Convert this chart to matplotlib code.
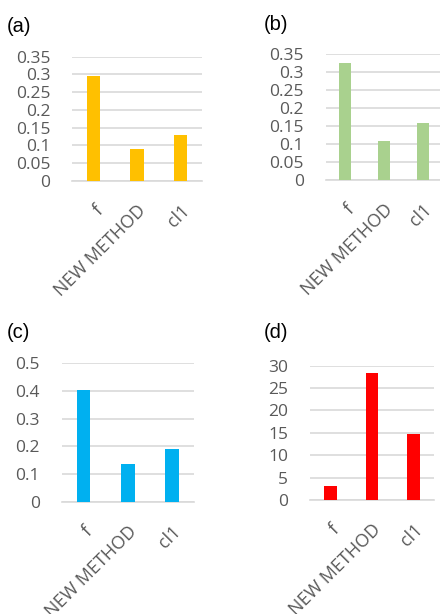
import matplotlib
matplotlib.use('Agg')
from matplotlib import pyplot as plt

plt.rcParams['font.family'] = ['Open Sans', 'DejaVu Sans']

categories = ['f', 'NEW METHOD', 'cl1']
values_a = [0.295, 0.090, 0.130]
values_b = [0.325, 0.108, 0.158]
values_c = [0.405, 0.137, 0.190]
values_d = [3.2, 28.3, 14.7]

ticks_a = [0, 0.05, 0.1, 0.15, 0.2, 0.25, 0.3, 0.35]
ticks_c = [0, 0.1, 0.2, 0.3, 0.4, 0.5]
ticks_d = [0, 5, 10, 15, 20, 25, 30]

W, H = 440, 614
fig = plt.figure(figsize=(W / 100, H / 100), dpi=100)

grid_col = '#D9D9D9'
text_col = '#595959'

def panel(box, vals, ticks, color, letter, letter_xy, bar_w):
    x0, x1, ytop, ybot = box
    ax = fig.add_axes([x0 / W, 1 - ybot / H, (x1 - x0) / W, (ybot - ytop) / H])
    ax.bar(range(len(categories)), vals, width=bar_w, color=color, zorder=3)
    ax.set_xlim(-0.5, len(categories) - 0.5)
    ax.set_ylim(ticks[0], ticks[-1])
    ax.set_yticks(ticks)
    ax.set_yticklabels(['%g' % t for t in ticks])
    ax.yaxis.grid(True, color=grid_col, linewidth=1.2, zorder=0)
    for s in ['top', 'right', 'left']:
        ax.spines[s].set_visible(False)
    ax.spines['bottom'].set_color(grid_col)
    ax.spines['bottom'].set_linewidth(1.2)
    ax.tick_params(length=0, labelsize=12.5, labelcolor=text_col)
    ax.tick_params(axis='y', pad=15.5)
    ax.set_xticks(range(len(categories)))
    ax.set_xticklabels(categories, rotation=45, ha='right', va='top',
                       rotation_mode='anchor', fontsize=13)
    ax.tick_params(axis='x', pad=15)
    fig.text(letter_xy[0] / W, 1 - letter_xy[1] / H, letter, fontsize=14.5,
             family='Liberation Sans', color='black', ha='left', va='center')
    return ax

panel((72, 202, 56.7, 181), values_a, ticks_a, '#FFC000', '(a)', (7, 27), 0.31)
panel((325.5, 442.5, 54.3, 180), values_b, ticks_a, '#A9D18E', '(b)', (264, 25), 0.31)
panel((61.5, 194, 363.3, 501.7), values_c, ticks_c, '#00B0F0', '(c)', (7, 333), 0.31)
panel((309.75, 434.25, 365.7, 500), values_d, ticks_d, '#FF0000', '(d)', (264, 333), 0.31)

fig.savefig('out.png', dpi=100)
